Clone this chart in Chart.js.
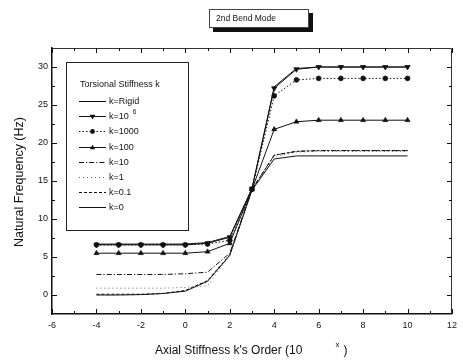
<!DOCTYPE html>
<html>
<head>
<meta charset="utf-8">
<script src="https://cdn.jsdelivr.net/npm/chart.js@4.4.1/dist/chart.umd.min.js"></script>
<style>
html,body{margin:0;padding:0;background:#fff;}
#wrap{width:463px;height:360px;position:relative;}
</style>
</head>
<body>
<div id="wrap"><canvas id="c" width="463" height="360"></canvas></div>
<script>
// ---- data ----
const xValues = [-4, -3, -2, -1, 0, 1, 2, 3, 4, 5, 6, 7, 8, 9, 10];
const kRigid  = [6.7, 6.7, 6.7, 6.7, 6.7, 6.9, 7.7, 14.0, 27.4, 29.8, 30.0, 30.0, 30.0, 30.0, 30.0];
const k1e6    = [6.6, 6.6, 6.6, 6.6, 6.6, 6.8, 7.6, 14.0, 27.2, 29.7, 30.0, 30.0, 30.0, 30.0, 30.0];
const k1000   = [6.6, 6.6, 6.6, 6.6, 6.6, 6.7, 7.2, 13.9, 26.2, 28.3, 28.5, 28.5, 28.5, 28.5, 28.5];
const k100    = [5.5, 5.5, 5.5, 5.5, 5.5, 5.7, 6.8, 13.9, 21.8, 22.8, 23.0, 23.0, 23.0, 23.0, 23.0];
const k10     = [2.7, 2.7, 2.7, 2.7, 2.8, 3.0, 5.5, 13.9, 18.4, 18.9, 19.0, 19.0, 19.0, 19.0, 19.0];
const k1      = [0.9, 0.9, 0.9, 0.9, 1.0, 1.2, 5.3, 13.8, 18.2, 18.8, 18.9, 18.9, 18.9, 18.9, 18.9];
const k01     = [0.1, 0.1, 0.1, 0.2, 0.6, 1.9, 5.3, 13.9, 18.4, 18.9, 19.0, 19.0, 19.0, 19.0, 19.0];
const k0      = [0.0, 0.0, 0.05, 0.2, 0.5, 1.8, 5.2, 13.8, 17.9, 18.3, 18.3, 18.3, 18.3, 18.3, 18.3];

const seriesLabels = ['k=Rigid', 'k=10', 'k=1000', 'k=100', 'k=10', 'k=1', 'k=0.1', 'k=0'];
const seriesSup    = ['', '6', '', '', '', '', '', ''];
const xTicks = [-6, -4, -2, 0, 2, 4, 6, 8, 10, 12];
const yTicks = [0, 5, 10, 15, 20, 25, 30];
const chartTitle = '2nd Bend Mode';
const legendTitle = 'Torsional Stiffness k';
const xTitle = "Axial Stiffness k's Order (10";
const xTitleSup = 'x';
const yTitle = 'Natural Frequency (Hz)';

// ---- styles ----
const INK = '#111';
const styles = [
  {dash: [], point: false},
  {dash: [], point: 'triangle', rot: 180, r: 3.0},
  {dash: [1.5, 2], point: 'circle', rot: 0, r: 2.4},
  {dash: [], point: 'triangle', rot: 0, r: 2.8},
  {dash: [5, 2, 1.2, 2], point: false},
  {dash: [1, 3], point: false, color: '#666'},
  {dash: [3, 2], point: false},
  {dash: [], point: false}
];
const seriesData = [kRigid, k1e6, k1000, k100, k10, k1, k01, k0];

const datasets = seriesData.map((arr, i) => {
  const s = styles[i];
  return {
    label: seriesLabels[i],
    data: xValues.map((x, j) => ({x: x, y: arr[j]})),
    borderColor: s.color || INK,
    backgroundColor: s.color || INK,
    borderWidth: 1,
    borderDash: s.dash,
    pointStyle: s.point || 'circle',
    pointRadius: s.point ? s.r : 0,
    pointRotation: s.rot || 0,
    pointBackgroundColor: INK,
    pointBorderColor: INK,
    pointBorderWidth: 0.8,
    tension: 0
  };
});

const FONT = 'Liberation Sans, Arial, sans-serif';

function drawMarker(ctx, s, x, y) {
  if (!s.point) return;
  ctx.save();
  ctx.setLineDash([]);
  ctx.fillStyle = INK;
  ctx.beginPath();
  if (s.point === 'circle') {
    ctx.arc(x, y, s.r, 0, Math.PI * 2);
  } else {
    const r = s.r;
    const dir = s.rot === 180 ? -1 : 1;
    ctx.moveTo(x, y - dir * r);
    ctx.lineTo(x - r * 0.95, y + dir * r * 0.6);
    ctx.lineTo(x + r * 0.95, y + dir * r * 0.6);
    ctx.closePath();
  }
  ctx.fill();
  ctx.restore();
}

const deco = {
  id: 'deco',
  afterDraw(chart) {
    const ctx = chart.ctx;
    const a = chart.chartArea;
    const xs = chart.scales.x, ys = chart.scales.y;
    ctx.save();
    // frame top/right
    ctx.strokeStyle = '#333';
    ctx.lineWidth = 1;
    ctx.setLineDash([]);
    ctx.beginPath();
    ctx.moveTo(a.left, a.top + 0.5); ctx.lineTo(a.right - 0.5, a.top + 0.5); ctx.lineTo(a.right - 0.5, a.bottom);
    ctx.stroke();

    // inward ticks
    ctx.strokeStyle = INK;
    ctx.lineWidth = 1;
    ctx.beginPath();
    for (let i = 0; i < xTicks.length; i++) {
      const px = Math.round(xs.getPixelForValue(xTicks[i])) + 0.5;
      ctx.moveTo(px, a.bottom); ctx.lineTo(px, a.bottom - 5);
      ctx.moveTo(px, a.top); ctx.lineTo(px, a.top + 5);
      if (i < xTicks.length - 1) {
        const mx = Math.round(xs.getPixelForValue((xTicks[i] + xTicks[i + 1]) / 2)) + 0.5;
        ctx.moveTo(mx, a.bottom); ctx.lineTo(mx, a.bottom - 3);
        ctx.moveTo(mx, a.top); ctx.lineTo(mx, a.top + 3);
      }
    }
    for (let i = 0; i < yTicks.length; i++) {
      const py = Math.round(ys.getPixelForValue(yTicks[i])) + 0.5;
      ctx.moveTo(a.left, py); ctx.lineTo(a.left + 5, py);
      ctx.moveTo(a.right, py); ctx.lineTo(a.right - 5, py);
      if (i < yTicks.length - 1) {
        const my = Math.round(ys.getPixelForValue((yTicks[i] + yTicks[i + 1]) / 2)) + 0.5;
        ctx.moveTo(a.left, my); ctx.lineTo(a.left + 3, my);
        ctx.moveTo(a.right, my); ctx.lineTo(a.right - 3, my);
      }
    }
    ctx.stroke();

    // chart title box with shadow
    const bx = 209, by = 9, bw = 100, bh = 19;
    ctx.fillStyle = '#111';
    ctx.fillRect(bx + 4, by + 4, bw, bh);
    ctx.fillStyle = '#fff';
    ctx.fillRect(bx, by, bw, bh);
    ctx.strokeStyle = '#444';
    ctx.strokeRect(bx + 0.5, by + 0.5, bw - 1, bh - 1);
    ctx.fillStyle = INK;
    ctx.font = '8.5px ' + FONT;
    ctx.textAlign = 'left';
    ctx.textBaseline = 'middle';
    ctx.fillText(chartTitle, 216, by + bh / 2 + 0.5);

    // legend
    const lx = 66, ly = 62, lw = 122, lh = 168;
    ctx.fillStyle = '#fff';
    ctx.fillRect(lx, ly, lw, lh);
    ctx.strokeStyle = '#222';
    ctx.lineWidth = 1;
    ctx.strokeRect(lx + 0.5, ly + 0.5, lw, lh);
    ctx.fillStyle = INK;
    ctx.font = '9px ' + FONT;
    ctx.fillText(legendTitle, 80, 85);
    for (let i = 0; i < seriesLabels.length; i++) {
      const ry = Math.round(101 + i * 15.2) + 0.5;
      const s = styles[i];
      ctx.save();
      ctx.strokeStyle = s.color || INK;
      ctx.lineWidth = 1;
      ctx.setLineDash(s.dash);
      ctx.beginPath();
      ctx.moveTo(79, ry); ctx.lineTo(106, ry);
      ctx.stroke();
      ctx.restore();
      drawMarker(ctx, s, 92.5, ry);
      ctx.fillStyle = INK;
      ctx.font = '9px ' + FONT;
      ctx.fillText(seriesLabels[i], 109, ry);
      if (seriesSup[i]) {
        const w = ctx.measureText(seriesLabels[i]).width;
        ctx.font = '6.5px ' + FONT;
        ctx.fillText(seriesSup[i], 109 + w + 4, ry - 4);
      }
    }

    // axis titles
    ctx.fillStyle = INK;
    ctx.font = '12px ' + FONT;
    ctx.textAlign = 'left';
    ctx.textBaseline = 'middle';
    ctx.fillText(xTitle, 155, 351);
    const tw = ctx.measureText(xTitle).width;
    ctx.font = '8px ' + FONT;
    ctx.fillText(xTitleSup, 155 + tw + 33, 345);
    ctx.font = '12px ' + FONT;
    ctx.fillText(')', 155 + tw + 41, 351);

    ctx.font = '12.5px ' + FONT;
    ctx.save();
    ctx.translate(20, 182);
    ctx.rotate(-Math.PI / 2);
    ctx.textAlign = 'center';
    ctx.fillText(yTitle, 0, 0);
    ctx.restore();

    ctx.restore();
  }
};

new Chart(document.getElementById('c'), {
  type: 'line',
  data: {datasets: datasets},
  options: {
    responsive: false,
    animation: false,
    layout: {padding: {top: 48, right: 11, left: 0, bottom: 0}},
    plugins: {legend: {display: false}, tooltip: {enabled: false}, title: {display: false}},
    scales: {
      x: {
        type: 'linear', min: -6, max: 12,
        afterBuildTicks: s => { s.ticks = xTicks.map(v => ({value: v})); },
        afterFit: s => { s.height = 46; },
        grid: {drawOnChartArea: false, drawTicks: false},
        border: {display: true, color: INK, width: 1.5},
        ticks: {color: INK, font: {family: FONT, size: 9}, padding: 6, maxRotation: 0, autoSkip: false}
      },
      y: {
        type: 'linear', min: -2.5, max: 32.5,
        afterBuildTicks: s => { s.ticks = yTicks.map(v => ({value: v})); },
        afterFit: s => { s.width = 52; },
        grid: {drawOnChartArea: false, drawTicks: false},
        border: {display: true, color: INK, width: 1.5},
        ticks: {color: INK, font: {family: FONT, size: 9}, padding: 4}
      }
    }
  },
  plugins: [deco]
});
</script>
</body>
</html>
